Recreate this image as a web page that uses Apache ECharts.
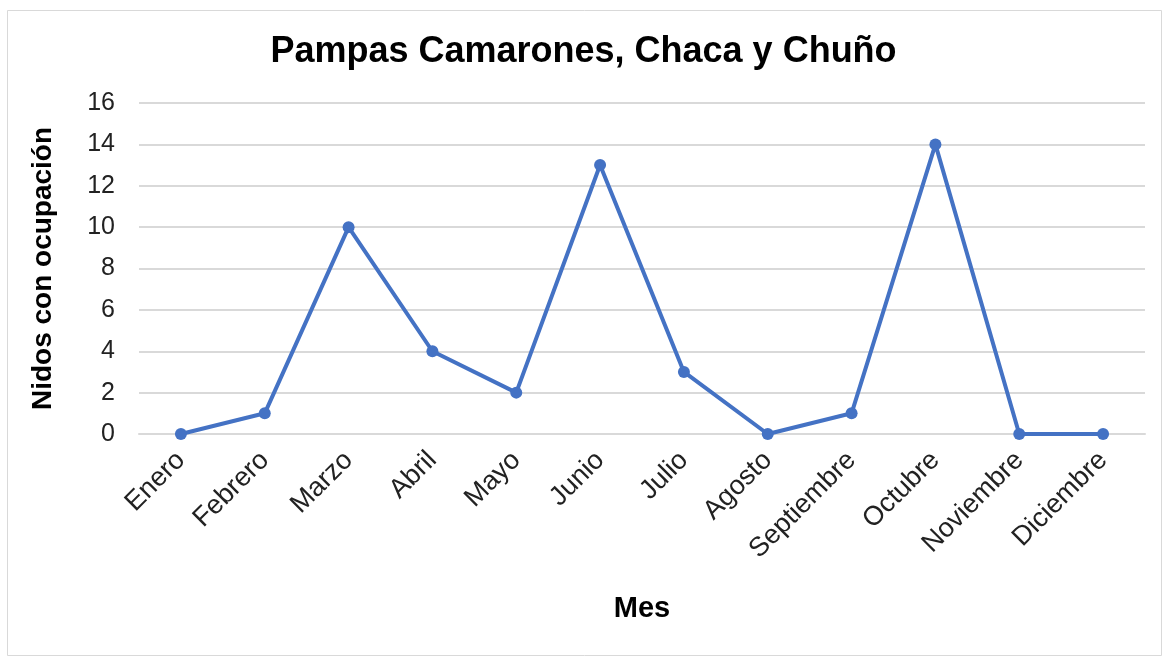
<!DOCTYPE html>
<html>
<head>
<meta charset="utf-8">
<script src="https://cdn.jsdelivr.net/npm/echarts@6/dist/echarts.min.js"></script>
<style>
html,body{margin:0;padding:0;background:#fff;}
#chart{width:1167px;height:660px;}
</style>
</head>
<body>
<div id="chart"></div>
<script>
const titleText = 'Pampas Camarones, Chaca y Chuño';
const months = ['Enero','Febrero','Marzo','Abril','Mayo','Junio','Julio','Agosto','Septiembre','Octubre','Noviembre','Diciembre'];
const nidos = [0,1,10,4,2,13,3,0,1,14,0,0];
const yAxisName = 'Nidos con ocupación';
const xAxisName = 'Mes';

const chart = echarts.init(document.getElementById('chart'));
const font = 'Liberation Sans, Arial, sans-serif';
chart.setOption({
  animation: false,
  backgroundColor: '#fff',
  graphic: [{
    type: 'rect', left: 5, top: 8, shape: {width: 1154, height: 645},
    style: {fill: 'none', stroke: '#d9d9d9', lineWidth: 1}, silent: true
  }],
  title: {
    text: titleText, left: 'center', top: 29,
    textStyle: {fontFamily: font, fontSize: 36, fontWeight: 'bold', color: '#000'}
  },
  grid: {left: 139, right: 22, top: 103, bottom: 226},
  xAxis: {
    type: 'category', data: months, boundaryGap: true,
    name: xAxisName, nameLocation: 'middle', nameGap: 160,
    nameTextStyle: {fontFamily: font, fontSize: 29, fontWeight: 'bold', color: '#000'},
    axisLine: {show: true, lineStyle: {color: '#d9d9d9', width: 2}},
    axisTick: {show: false},
    axisLabel: {rotate: 45, interval: 0, margin: 22, fontFamily: font, fontSize: 27, color: '#222'}
  },
  yAxis: {
    type: 'value', min: 0, max: 16, interval: 2,
    name: yAxisName, nameLocation: 'middle', nameGap: 82,
    nameTextStyle: {fontFamily: font, fontSize: 28, fontWeight: 'bold', color: '#000'},
    axisLine: {show: false}, axisTick: {show: false},
    axisLabel: {fontFamily: font, fontSize: 25, color: '#222', margin: 24},
    splitLine: {lineStyle: {color: '#d9d9d9', width: 2}}
  },
  series: [{
    type: 'line', data: nidos,
    symbol: 'circle', symbolSize: 12,
    lineStyle: {color: '#4472C4', width: 4},
    itemStyle: {color: '#4472C4'}
  }]
});
</script>
</body>
</html>
